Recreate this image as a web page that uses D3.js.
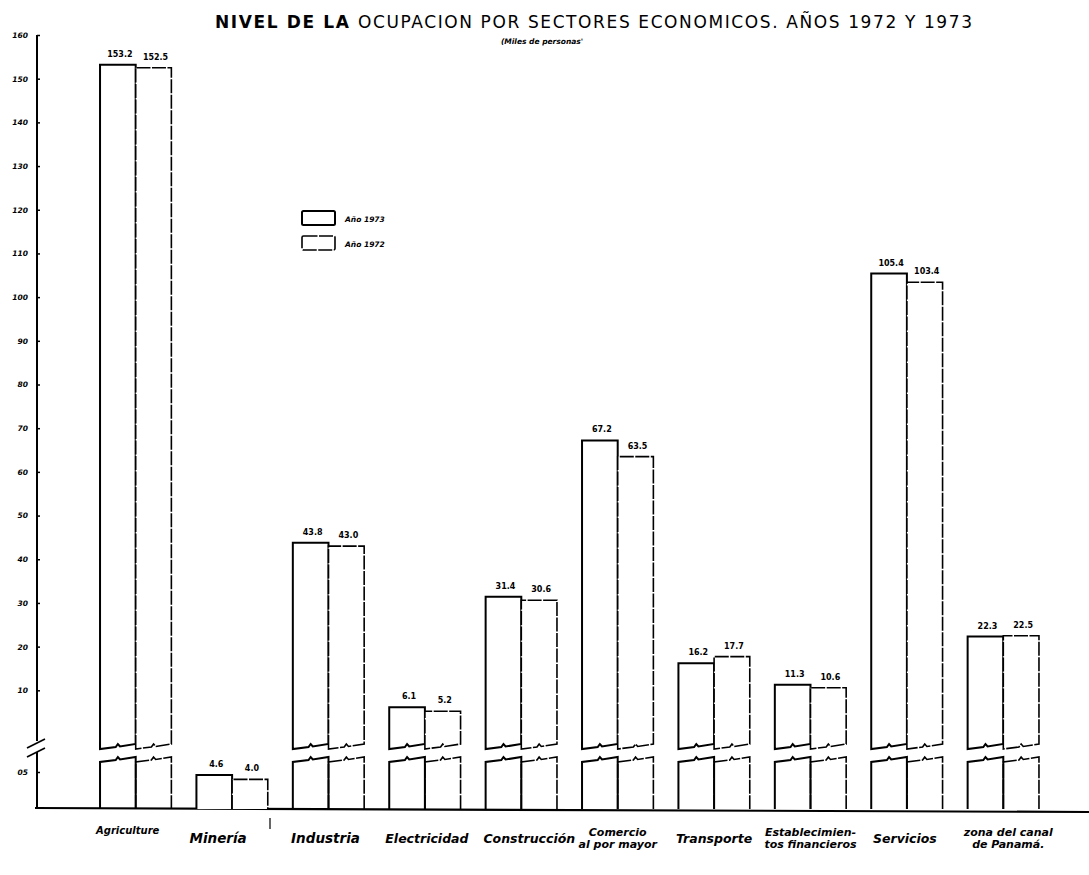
<!DOCTYPE html>
<html>
<head>
<meta charset="utf-8">
<script src="https://cdn.jsdelivr.net/npm/d3@7/dist/d3.min.js"></script>
<style>
  html, body { margin: 0; padding: 0; background: #fff; }
  svg { display: block; }
</style>
</head>
<body>
<svg id="chart" width="1089" height="875"></svg>
<script>
// ---------- DATA ----------
const categories = ["Agriculture", "Minería", "Industria", "Electricidad", "Construcción",
  "Comercio al por mayor", "Transporte", "Establecimientos financieros", "Servicios", "Zona del canal de Panamá"];
const categoryLabelLines = [
  ["Agriculture"], ["Minería"], ["Industria"], ["Electricidad"], ["Construcción"],
  ["Comercio", "al por mayor"], ["Transporte"], ["Establecimien-", "tos financieros"],
  ["Servicios"], ["zona del canal", "de Panamá."]
];
const years = ["Año 1973", "Año 1972"];
const values1973 = [153.2, 4.6, 43.8, 6.1, 31.4, 67.2, 16.2, 11.3, 105.4, 22.3];
const values1972 = [152.5, 4.0, 43.0, 5.2, 30.6, 63.5, 17.7, 10.6, 103.4, 22.5];
const upperTicks = [10, 20, 30, 40, 50, 60, 70, 80, 90, 100, 110, 120, 130, 140, 150, 160];
const lowerTicks = [5];
const lowerTickLabels = ["05"];
const titleStart = "NIVEL DE LA ";
const titleRest = "OCUPACION POR SECTORES ECONOMICOS. AÑOS 1972 Y 1973";
const subtitleText = "(Miles de personas'";

// ---------- LAYOUT ----------
const svg = d3.select("#chart");
const axisX = 37;
const baseY = 809;
const upperBreak = 746;   // bottom of upper part of broken bars
const lowerBreak = 759;   // top of lower stub of broken bars

const x = d3.scaleBand().domain(categories).range([87.5, 1051.5]).paddingInner(0.26).paddingOuter(0.13);
const yU = d3.scaleLinear().domain([0, 160]).range([734, 35]);
const yL = d3.scaleLinear().domain([0, 5]).range([baseY, 772]);

const handFont = "'DejaVu Sans', 'Liberation Sans', sans-serif";

// Title
const title = svg.append("text")
  .attr("x", 215).attr("y", 28)
  .attr("textLength", 757).attr("lengthAdjust", "spacing")
  .style("font-family", "'DejaVu Sans', 'Liberation Sans', sans-serif")
  .style("font-size", "17px");
title.append("tspan").style("font-weight", "bold").text(titleStart);
title.append("tspan").style("font-weight", "normal").text(titleRest);
svg.append("text")
  .attr("x", 542).attr("y", 44).attr("text-anchor", "middle")
  .style("font-family", handFont).style("font-size", "7.5px")
  .style("font-style", "italic").style("font-weight", "bold")
  .text(subtitleText);

// Y axis (upper)
const gU = svg.append("g").attr("transform", `translate(${axisX},0)`)
  .call(d3.axisLeft(yU).tickValues(upperTicks).tickSize(-3).tickPadding(9).tickFormat(d3.format("d")));
gU.select(".domain").remove();
const gL = svg.append("g").attr("transform", `translate(${axisX},0)`)
  .call(d3.axisLeft(yL).tickValues(lowerTicks).tickSize(-3).tickPadding(9)
    .tickFormat((d, i) => lowerTickLabels[i]));
gL.select(".domain").remove();
svg.selectAll(".tick line").attr("stroke", "#000").attr("stroke-width", 1.5);
svg.selectAll(".tick text")
  .style("font-family", handFont).style("font-size", "7.5px")
  .style("font-style", "italic").style("font-weight", "bold").attr("fill", "#000");

// axis line with break
svg.append("line").attr("x1", axisX).attr("x2", axisX).attr("y1", yU(160)).attr("y2", 741)
  .attr("stroke", "#000").attr("stroke-width", 2);
svg.append("line").attr("x1", axisX).attr("x2", axisX).attr("y1", 752).attr("y2", baseY)
  .attr("stroke", "#000").attr("stroke-width", 2);
[0, 9].forEach(o => {
  svg.append("line").attr("x1", 27).attr("y1", 748 + o).attr("x2", 45).attr("y2", 739 + o)
    .attr("stroke", "#000").attr("stroke-width", 1.6);
});

// Baseline
svg.append("line").attr("x1", 35).attr("x2", 1089).attr("y1", baseY - 1).attr("y2", baseY + 3)
  .attr("stroke", "#000").attr("stroke-width", 2.2);
// small mark under Minería
svg.append("line").attr("x1", 270).attr("x2", 270).attr("y1", 818).attr("y2", 829)
  .attr("stroke", "#000").attr("stroke-width", 1.2);

// ---------- BARS ----------
function zig(x0, x1, b) {
  const w = x1 - x0;
  return [[x0, b + 3], [x0 + 0.44 * w, b + 1], [x0 + 0.5 * w, b - 2], [x0 + 0.56 * w, b + 0.5], [x1, b - 2]];
}
const line = d3.line();
const series = [values1973, values1972];
const seriesStyle = [
  { width: 2, dash: null },
  { width: 1.6, dash: "14,1.5" }
];

categories.forEach((cat, i) => {
  const bw = x.bandwidth() / 2;
  series.forEach((vals, s) => {
    const v = vals[i];
    const x0 = x(cat) + s * bw, x1 = x0 + bw;
    const st = seriesStyle[s];
    let topY;
    if (v <= yL.domain()[1]) {
      topY = yL(v);
      svg.append("path")
        .attr("d", line([[x0, baseY], [x0, topY], [x1, topY], [x1, baseY]]))
        .attr("fill", "#fff").attr("stroke", "#000").attr("stroke-width", st.width)
        .attr("stroke-dasharray", st.dash);
    } else {
      topY = yU(v);
      const zu = zig(x0, x1, upperBreak);
      const pts = [[x0, zu[0][1]], [x0, topY], [x1, topY], [x1, zu[zu.length - 1][1]]]
        .concat(zu.slice().reverse());
      svg.append("path").attr("d", line(pts) + "Z")
        .attr("fill", "#fff").attr("stroke", "#000").attr("stroke-width", st.width)
        .attr("stroke-dasharray", st.dash);
      const zl = zig(x0, x1, lowerBreak);
      const pts2 = [[x0, baseY]].concat(zl).concat([[x1, baseY]]);
      svg.append("path").attr("d", line(pts2))
        .attr("fill", "none").attr("stroke", "#000").attr("stroke-width", st.width)
        .attr("stroke-dasharray", st.dash);
    }
    svg.append("text")
      .attr("x", x0 + bw / 2 + 2).attr("y", topY - 8).attr("text-anchor", "middle")
      .style("font-family", handFont).style("font-size", "8px").style("font-weight", "bold")
      .text(v.toFixed(1));
  });
});

// ---------- CATEGORY LABELS ----------
const labelShift = [-8, -14, -3, 2, 8, 0, 0, 0, -2, 5];
categories.forEach((cat, i) => {
  const lines = categoryLabelLines[i];
  const cx = x(cat) + x.bandwidth() / 2 + labelShift[i];
  const t = svg.append("text")
    .attr("x", cx).attr("y", lines.length > 1 ? 836 : (i === 0 ? 834 : 843))
    .attr("text-anchor", "middle")
    .style("font-family", handFont)
    .style("font-size", i === 0 ? "10px" : (lines.length > 1 ? "11px" : (i <= 2 ? "13.5px" : "12.5px")))
    .style("font-style", "italic").style("font-weight", "bold");
  lines.forEach((l, k) => {
    t.append("tspan").attr("x", cx).attr("dy", k === 0 ? 0 : 12).text(l);
  });
});

// ---------- LEGEND ----------
const legend = svg.append("g");
years.forEach((yr, k) => {
  legend.append("rect").attr("x", 302).attr("y", 211 + k * 25).attr("width", 33).attr("height", 14)
    .attr("rx", 1.5)
    .attr("fill", "#fff").attr("stroke", "#000").attr("stroke-width", seriesStyle[k].width)
    .attr("stroke-dasharray", seriesStyle[k].dash);
  legend.append("text").attr("x", 345).attr("y", 222 + k * 25)
    .style("font-family", handFont).style("font-size", "7.5px")
    .style("font-style", "italic").style("font-weight", "bold")
    .text(yr);
});
</script>
</body>
</html>
